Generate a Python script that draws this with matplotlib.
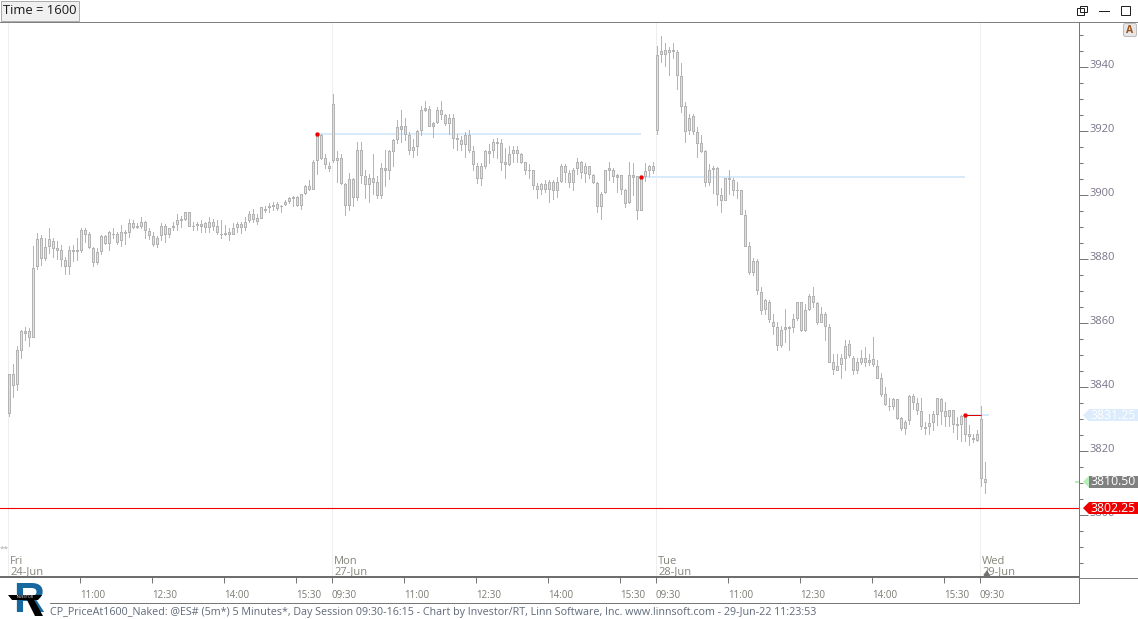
import matplotlib
matplotlib.use("Agg")
import matplotlib.pyplot as plt
import matplotlib.transforms as mtrans
from matplotlib.patches import Polygon, Rectangle, FancyBboxPatch
from matplotlib.ticker import MultipleLocator

# ---------- data (prices; one entry per 5-minute bar) ----------
highs = [
 3844.25,3847.25,3853,3857.75,3858.75,3858.5,3884.25,3888.25,3887.5,3886.75,
 3889.75,3886.75,3885.75,3884.5,3880.75,3884.25,3884.5,3886.5,3889.75,3889.75,
 3888.5,3883.75,3883.5,3887.5,3887.5,3888.75,3889.75,3888.5,3890.75,3889.25,
 3892.5,3892.25,3891.25,3893.25,3892,3889.75,3888.5,3887.25,3891.25,3891,
 3889.75,3891.5,3894.25,3893.5,3894.75,3894.75,3891.75,3891.75,3892.25,3891.5,
 3893.25,3892.5,3892.25,3892.25,3890.75,3889.75,3891.25,3891.75,3891.5,3893.25,
 3895,3895.75,3894.25,3896.25,3896.75,3897.5,3897.75,3897.75,3897,3898.5,
 3899.5,3899.75,3899.75,3900.5,3903.25,3904.75,3911,3919.25,3919.25,3913,
 3910.5,
 3931.75,3913.75,3913,3903.75,3907,3905.5,3916.5,3916.5,3908,3906.75,
 3912.75,3906,3910,3914.25,3914.25,3917.5,3923.5,3926.75,3924,3919.75,
 3917.5,3920.5,3927.75,3929.5,3927.75,3923,3927.5,3929.5,3925.5,3925.5,
 3925.5,3919.25,3918.5,3919.75,3920.25,3915.25,3910,3910,3914,3916,
 3917.5,3917.75,3917.5,3914.75,3915.5,3915.5,3915.5,3913.25,3910.5,3909.75,
 3908,3903.75,3903.75,3904.75,3904.75,3904.75,3905.75,3909.75,3909.75,3908,
 3908.5,3911.5,3910.75,3910,3909.25,3906.75,3904,3901,3908,3910.25,
 3908.5,3906.5,3906.25,3902,3910.25,3910,3906,3906,3910,3909.5,
 3910.5,
 3946.75,3949.75,3947.5,3946.25,3947.5,3945.5,3941.25,3929,3925.5,3925.5,
 3921.25,3918.75,3914.25,3909.75,3909.25,3908.75,3902.25,3905.5,3908,3905.25,
 3904.25,3901.75,3895.5,3885.5,3880.25,3880,3871.25,3867.5,3867.25,3863,
 3860.25,3859.25,3864.5,3859.25,3862.75,3866.5,3866.5,3866,3869.25,3871.25,
 3866.5,3865,3863.5,3859.75,3850.5,3850.25,3850.5,3854.75,3854.75,3849.75,
 3849,3851.5,3852.5,3850.5,3855.75,3848.5,3844.5,3840,3836.75,3836.75,
 3836.25,3830.75,3829.75,3837.5,3837.75,3836.75,3836.75,3829,3831.5,3832.5,
 3836.75,3836.75,3835.5,3833,3833,3830.75,3831.25,3831.5,3828.25,3825.25,
 3826.75,
 3834.25,3816.75]

lows = [
 3831,3837,3839,3849.25,3854.75,3853,3855.75,3877,3878.25,3879.75,
 3882,3880.75,3880,3877.75,3875.25,3875.25,3879.5,3879.75,3882.25,3885.5,
 3883.5,3877.75,3878.5,3881.5,3884.75,3883,3886.75,3884.75,3884.25,3884.75,
 3887,3889.75,3889.75,3889.75,3886.5,3886.25,3884,3883.75,3886,3885.5,
 3887,3889,3889.25,3890,3892.25,3890.25,3889.25,3889.25,3888.5,3888.5,
 3888.5,3889.25,3888,3886.5,3887.5,3886,3888,3888.5,3888.25,3889,
 3891.5,3891.75,3891,3893,3894.75,3894.75,3895.5,3895.5,3894.75,3897,
 3897.5,3896.75,3896.75,3895.75,3900.5,3901.5,3902,3906.75,3911.25,3908.5,
 3907.5,
 3910.5,3904,3903.5,3893.75,3895.5,3896.75,3898.5,3903.75,3899.25,3898,
 3900.5,3899,3899,3903,3905,3909,3916.25,3916.5,3917.25,3912.75,
 3912,3912.5,3918.75,3926.25,3921.75,3918.25,3922.5,3923.75,3922,3919.25,
 3914.75,3914.25,3914.25,3912,3913.5,3908,3903.75,3903.25,3908.5,3910,
 3912,3911.75,3908,3905.25,3909.5,3910.5,3910.5,3910,3906.75,3905.25,
 3902,3899,3900.5,3901,3897.75,3898.75,3899.5,3904.25,3904.25,3902.5,
 3901.5,3906.75,3905.25,3904,3905.5,3903.75,3894.75,3892.5,3900.75,3904.75,
 3904.25,3901,3900.5,3896.25,3897.5,3900,3892.5,3895.25,3904.5,3906,
 3907,
 3919,3941.5,3940.25,3937.5,3942.75,3933.25,3926,3916.5,3919,3919.25,
 3912,3913.5,3902.75,3903.25,3900.75,3897,3894.75,3898.5,3900.5,3900,
 3899,3894,3884,3875.5,3875,3869.25,3862.75,3862.75,3860.25,3856.75,
 3851.5,3852.5,3854.25,3851.75,3857.25,3861,3857.5,3857.5,3864,3865,
 3859.75,3860.25,3854.75,3848,3844.25,3845.25,3843,3845.5,3849.5,3844.25,
 3844.5,3847.25,3846.5,3847,3846.75,3843,3837.25,3834.5,3833,3833.25,
 3830,3826.75,3825.25,3828.5,3833.25,3831.75,3827,3825.25,3825.25,3826.75,
 3828.25,3828.5,3828,3828,3826,3823.75,3823.25,3823.25,3822,3822.75,
 3823.25,
 3809.25,3807]

body_tops = [
 3844.25,3844,3851.5,3857.5,3857.5,3857.5,3877.25,3886.25,3886.5,3883.75,
 3886.25,3885.75,3883.5,3883,3879.75,3882.75,3882.75,3882.75,3889.25,3889.25,
 3887.75,3883.5,3882.25,3887.25,3887.25,3888.5,3888,3888,3888.5,3888.5,
 3891.25,3891.25,3890.25,3891.75,3891.5,3888.75,3887.25,3886.75,3890.5,3890.5,
 3889.75,3890.5,3892.25,3892.5,3894.75,3894.75,3890.5,3891,3891,3891.25,
 3891.5,3891.5,3890.25,3888,3888.25,3888.5,3889.75,3891,3891,3891.5,
 3894,3894,3892.75,3896.25,3895.75,3896.75,3897,3897.25,3896.75,3898,
 3899.25,3899.5,3899.5,3900.5,3903,3903,3910.5,3919.25,3918.75,3911.5,
 3909.25,
 3928.5,3911.75,3911.75,3903.5,3905,3905,3914.25,3914.25,3906,3905.5,
 3905.5,3904,3908.5,3908.5,3913.75,3917.25,3921.25,3921.5,3921.75,3918.75,
 3915,3920,3926.75,3927.25,3927,3922.5,3926.75,3926.75,3925,3924,
 3924,3917.75,3917.25,3918.75,3918.75,3913.75,3909.25,3909,3913.75,3913.75,
 3916.5,3916.5,3916.25,3910.25,3913,3914.25,3914.25,3913,3910.25,3908,
 3907.75,3903,3903.5,3903.5,3904.25,3904.25,3904.25,3909.25,3909.25,3907,
 3908,3910.25,3910.5,3909.25,3909,3906.25,3903.75,3900.5,3907.75,3908.5,
 3908,3906.25,3906.25,3901.75,3906.25,3906.25,3906,3905.75,3907.5,3909,
 3909,
 3943.75,3945,3945.25,3945.5,3945.5,3944.75,3937.25,3927.75,3924.25,3924.75,
 3919.75,3916.25,3913.75,3908,3908.5,3908.5,3900,3905.25,3905.25,3904.75,
 3901.75,3901.5,3893.75,3884,3879.5,3879.5,3869.75,3867.25,3866.75,3860.5,
 3858.75,3858,3858.75,3858.75,3861.25,3866.5,3866.5,3864,3868.5,3868.5,
 3866.25,3863,3862.75,3858.75,3847.75,3846.75,3849,3853,3853.5,3849.25,
 3847.75,3849,3849,3848.5,3848.75,3846.75,3842.75,3837.75,3834.25,3836.25,
 3836.25,3830.25,3829.25,3837.25,3837.25,3835,3832.5,3827.5,3828.75,3831.5,
 3836.5,3836.25,3832.5,3833,3832.75,3828.5,3831,3831.25,3825.25,3824.25,
 3825.25,
 3830,3811.25]

body_bottoms = [
 3832,3840.75,3841,3851.75,3857,3855.75,3855.75,3877.75,3880.5,3880.5,
 3884.25,3883.5,3883,3880,3878,3878,3882.5,3882.5,3883,3887.75,
 3883.75,3879.25,3879,3882.5,3885,3885,3887.75,3885.5,3886,3888.25,
 3888.5,3890,3890,3890.5,3889.25,3887.5,3884.75,3884.75,3887.5,3887.75,
 3888,3890,3891,3892.25,3892.5,3890.5,3890.25,3890.75,3890.5,3890,
 3890,3890.5,3888.5,3887.75,3888,3887.75,3888,3890,3890,3890,
 3892.25,3892.5,3892,3893,3895.5,3896.25,3896.75,3896,3896.5,3897.25,
 3898.25,3899.25,3897,3897,3900.75,3902,3902,3911,3911.75,3909.75,
 3908.5,
 3911,3911,3903.75,3897,3897,3899.5,3899.5,3906.25,3903.5,3903.5,
 3904.25,3900,3900,3908,3907.75,3913.75,3917.5,3920.75,3919.25,3914,
 3914,3915.5,3920.25,3926.75,3921.75,3921.75,3922.75,3925.5,3922.5,3922.5,
 3918,3917.5,3916,3916,3914,3909.75,3905.25,3905.25,3909.25,3913.25,
 3914,3916.25,3910.5,3909.75,3909.75,3913.25,3913.25,3910.5,3908,3907.75,
 3903.25,3902,3902,3902,3902,3901.75,3901.5,3904.5,3907.25,3904,
 3904,3908.5,3907.25,3907,3906.5,3904,3896.5,3896.5,3901,3908,
 3906,3905.75,3902,3897.5,3897.75,3905.75,3895.5,3895.5,3906,3907.75,
 3908,
 3920.25,3944.25,3944.25,3944.75,3945,3937.5,3927.75,3920,3920.25,3920,
 3916.25,3913.75,3904.25,3904.25,3908.25,3900.25,3898.5,3898.5,3905,3901.75,
 3901.5,3894.25,3884.25,3876,3876,3870.5,3864,3864.5,3861.25,3859,
 3853.25,3853.25,3858.25,3858.5,3858.75,3861.5,3857.75,3857.75,3864.5,3866.5,
 3860.25,3860.25,3859,3848,3845.75,3845.5,3847.25,3849.25,3850,3845.5,
 3845.5,3848,3848,3848,3847.25,3843,3838,3834.75,3834,3834,
 3830.5,3827.25,3827.25,3829.75,3835.25,3832.75,3827.75,3827.25,3827.75,3829,
 3831.75,3832.5,3831,3831,3828.5,3828.25,3828.5,3825.5,3824.75,3823.75,
 3823.5,
 3811.5,3810.5]

# g = up bar, r = down bar, d = almost flat bar
directions = (
 "grggdrggrg" "grrrrgddgr" "rrggrgrrgd" "grdgrrrggr" "gggdgrdddr"
 "grrddrggrg" "grrgdgdrdg" "gdrggrggrr" "r"
 "rgrrgrgrr" "grrgdgggdr" "rgggdrdgrr" "grdrgrrrgg" "dgdrdggrrr"
 "drrgrgrggr" "rggrgrrrgg" "drdrrgdrgg" "gr"
 "grrgrrrr" "grrrrgdrrg" "drdrrrgrrg" "rrrgddggrg" "grrgrrrggg"
 "rrggrdrrrr" "dgrrggrrrd" "gggrrgrdgr" "rdg"
 "rr")

price_ticks_major = [3800, 3820, 3840, 3860, 3880, 3900, 3920, 3940]
time_tick_bars = [18, 36, 54, 72, 81, 99, 117, 135, 153, 162, 180, 198, 216, 234, 243]
time_tick_labels = ["11:00", "12:30", "14:00", "15:30", "09:30",
                    "11:00", "12:30", "14:00", "15:30", "09:30",
                    "11:00", "12:30", "14:00", "15:30", "09:30"]
day_bars = [0, 81, 162, 243]
day_names = ["Fri", "Mon", "Tue", "Wed"]
day_dates = ["24-Jun", "27-Jun", "28-Jun", "29-Jun"]
marker_bars = [77, 158, 239]
marker_prices = [3919.25, 3905.75, 3831.25]
marker_end_bars = [158, 239, 245]
last_price = 3810.50
stop_price = 3802.25

# ---------- figure ----------
W, H = 1138, 619
plt.rcParams['font.family'] = ['Open Sans', 'DejaVu Sans']
fig = plt.figure(figsize=(W / 100, H / 100), dpi=100, facecolor='white')
PX = 0.72
BAR_LEFT = 0.25   # separators and time ticks sit one pixel left of their bar

def px_rect(x0, y0, x1, y1):
    return [x0 / W, 1 - y1 / H, (x1 - x0) / W, (y1 - y0) / H]

def shift(label, dx, dy):
    label.set_transform(label.get_transform() + mtrans.ScaledTranslation(dx / 100, dy / 100, fig.dpi_scale_trans))

ax = fig.add_axes(px_rect(0, 22, 1079, 577))
ax.set_xlim(-2.3, 267.45)
ax.set_ylim(3820 - (577 - 451.3) / 3.2, 3820 + (451.3 - 22) / 3.2)
for s in ax.spines.values():
    s.set_visible(False)

overlay = fig.add_axes([0, 0, 1, 1], facecolor='none')
overlay.set_xlim(0, W)
overlay.set_ylim(H, 0)
overlay.axis('off')
x_bar_y_px = mtrans.blended_transform_factory(ax.transData, overlay.transData)

# day separators
for d in day_bars:
    ax.axvline(d - BAR_LEFT, color='#eeeeee', lw=PX, zorder=1)

# marker lines
for b, p, e in zip(marker_bars, marker_prices, marker_end_bars):
    ax.hlines(p, b, e, color='#d9ebfb', lw=2 * PX, zorder=2)

# candles
xs = list(range(len(highs)))
ax.vlines(xs, lows, highs, color='#b4b4b4', lw=PX, zorder=3, antialiased=False)
fills = {'g': '#cfeecf', 'r': '#f2d6d6', 'd': '#cccccc'}
ax.bar(xs, [t - b for t, b in zip(body_tops, body_bottoms)], bottom=body_bottoms, width=0.5,
       color=[fills[c] for c in directions], edgecolor='#b4b4b4', linewidth=PX, zorder=4,
       antialiased=False)

# red horizontal and markers
ax.axhline(stop_price, color='#f00000', lw=PX * 1.1, zorder=5)
ax.hlines(marker_prices[2], marker_bars[2], 243, color='#e00000', lw=PX, zorder=5)
ax.scatter(marker_bars, marker_prices, s=10, color='#ee0000', zorder=6, linewidths=0)

# axes ticks
ax.yaxis.tick_right()
ax.set_yticks(price_ticks_major)
ax.yaxis.set_minor_locator(MultipleLocator(5))
ax.tick_params(axis='y', which='major', length=9 * PX, width=PX, color='#777777', pad=1,
               labelsize=8, labelcolor='#7b7488')
ax.tick_params(axis='y', which='minor', length=4 * PX, width=PX, color='#777777')
for t in ax.yaxis.get_major_ticks():
    t.label2.set_verticalalignment('center')
    shift(t.label2, 0, 1.5)
ax.set_xticks([b - BAR_LEFT for b in time_tick_bars])
ax.set_xticklabels(time_tick_labels, ha='left')
ax.tick_params(axis='x', length=6 * PX, width=PX, color='#777777', pad=5,
               labelsize=7, labelcolor='#7a7a70')
for t in ax.xaxis.get_major_ticks():
    shift(t.label1, -0.5, 0)

# day labels
for d, n, dt in zip(day_bars, day_names, day_dates):
    ax.text(d + 0.25, 561.5, n, transform=x_bar_y_px, fontsize=8, color='#85857a', va='center', ha='left')
    ax.text(d + 0.25, 572, dt, transform=x_bar_y_px, fontsize=8, color='#85857a', va='center', ha='left')

# frame
o = overlay
o.plot([0, W], [21.5, 21.5], color='#808080', lw=PX)
o.plot([0, 1079], [577, 577], color='#6e6e6e', lw=2 * PX, solid_capstyle='butt')
o.plot([1079, W], [577.5, 577.5], color='#808080', lw=PX)
o.plot([1079.5, 1079.5], [22, 602], color='#777777', lw=PX)
o.plot([50, 1079], [602.5, 602.5], color='#777777', lw=PX)

# price tags
def tag(price, box, arrow, text_color):
    half = 6
    yp = H - ax.transData.transform((0, price))[1]
    o.add_patch(Polygon([(1083, yp), (1089, yp - half), (1089, yp + half)], closed=True,
                        facecolor=arrow, edgecolor='none', zorder=8))
    o.add_patch(Rectangle((1089, yp - half), 49, 2 * half, facecolor=box, edgecolor='none', zorder=8))
    o.text(1090.5, yp, f"{price:.2f}", color=text_color, fontsize=8.8, va='center', ha='left', zorder=9)

tag(marker_prices[2], '#dcecfc', '#dcecfc', 'white')
tag(last_price, '#808080', '#b6f0b6', 'white')
tag(stop_price, '#ee0000', '#ee0000', 'white')
yl = H - ax.transData.transform((0, last_price))[1]
o.plot([1075, 1079], [yl, yl], color='#b6f0b6', lw=2 * PX, solid_capstyle='butt')

# current-time triangle
o.add_patch(Polygon([(983, 577), (987, 570), (991, 577)], closed=True, facecolor='#707070', edgecolor='none', zorder=7))
o.text(0, 549, "**", color='#aaaaaa', fontsize=6, va='center', ha='left')

# top button and window icons
o.add_patch(Rectangle((0.5, 0.5), 78.5, 20, facecolor='#f0f0f0', edgecolor='#adadad', lw=PX, zorder=7))
o.text(3, 10.5, "Time = 1600", color='#1a1a1a', fontsize=9.4, va='center', ha='left', zorder=8)
o.add_patch(Rectangle((1077.5, 7.5), 7, 7, facecolor='white', edgecolor='#222222', lw=PX))
o.add_patch(Rectangle((1080.5, 5.5), 6.5, 6, facecolor='none', edgecolor='#222222', lw=PX))
o.plot([1099, 1109], [10.5, 10.5], color='#222222', lw=PX)
o.add_patch(Rectangle((1121.5, 5.5), 9, 9, facecolor='none', edgecolor='#222222', lw=PX))
o.add_patch(FancyBboxPatch((1125, 25), 10, 10, boxstyle="round,pad=1.5,rounding_size=2",
                           facecolor='#e6e6e6', edgecolor='#bdbdbd', lw=PX))
o.text(1130, 30.5, "A", color='#a0521e', fontsize=7.5, fontweight='bold', va='center', ha='center')

# footer
o.text(50, 612, "CP_PriceAt1600_Naked: @ES# (5m*) 5 Minutes*, Day Session 09:30-16:15 - Chart by Investor/RT, "
       "Linn Software, Inc. www.linnsoft.com - 29-Jun-22 11:23:53",
       color='#5f6a7a', fontsize=7.75, va='center', ha='left')

# logo
o.text(13, 612, "R", family=['Liberation Sans Narrow', 'Liberation Sans'], fontweight='bold', fontsize=31,
       color='#17689f', va='baseline', ha='left', zorder=8)
o.add_patch(Polygon([(26, 598), (33, 598), (43, 616), (35, 616)], closed=True, facecolor='black', edgecolor='none', zorder=9))
o.add_patch(Polygon([(8, 595), (42, 595), (38, 600), (12, 600)], closed=True, facecolor='black', edgecolor='none', zorder=10))
o.text(25, 597.5, "INVESTOR", color='white', fontsize=2.6, va='center', ha='center', zorder=11)

fig.savefig("out.png", dpi=100)
